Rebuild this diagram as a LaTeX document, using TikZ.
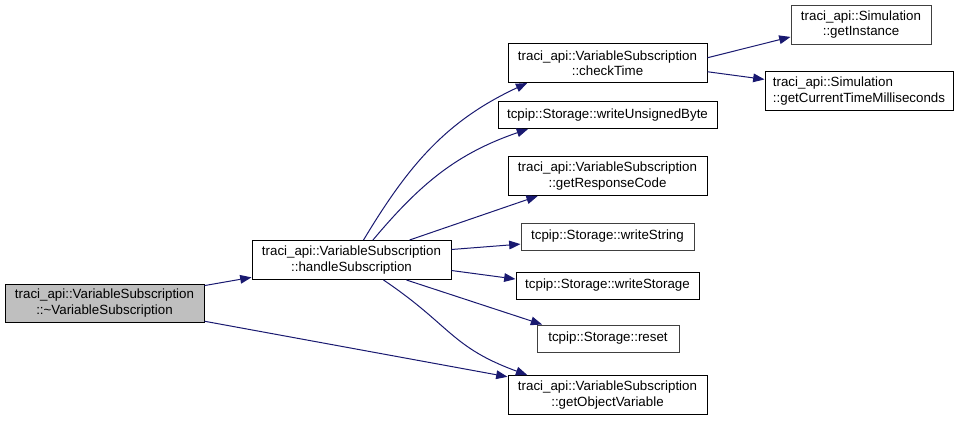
\documentclass[tikz,border=0pt]{standalone}
\usepackage{fontspec}
\setmainfont{Liberation Sans}
\usepackage{tikz,xcolor}
\usetikzlibrary{arrows.meta}
\definecolor{edgeblue}{HTML}{191970}
\definecolor{undocgray}{HTML}{404040}
\definecolor{selgray}{HTML}{BFBFBF}
\tikzset{
  fn/.style={draw=black, fill=white, line width=0.75pt, inner sep=0pt, align=center,
    font=\fontsize{10}{11.5}\selectfont, minimum height=29.25pt},
  fnone/.style={fn, minimum height=20.25pt},
  undoc/.style={draw=undocgray},
  call/.style={draw=edgeblue, line width=0.75pt, -{Triangle[length=8.5pt,width=6.5pt]}},
}

\begin{document}
\begin{tikzpicture}[x=0.75pt,y=-0.75pt]
\useasboundingbox (0,0) rectangle (961,421);
% the function itself
\node[fn, fill=selgray, minimum width=149.25pt, minimum height=28.5pt] (dtor) at (104.5,303)
  {traci\_api::VariableSubscription\\::\textasciitilde VariableSubscription};
\node[fn, minimum width=149.25pt] (handle) at (351.5,260)
  {traci\_api::VariableSubscription\\::handleSubscription};
% callees of handleSubscription
\node[fn, minimum width=149.25pt] (check) at (607.5,63)
  {traci\_api::VariableSubscription\\::checkTime};
\node[fnone, minimum width=164.25pt] (wubyte) at (607.5,115) {tcpip::Storage::writeUnsignedByte};
\node[fn, minimum width=149.25pt] (respcode) at (607.5,176)
  {traci\_api::VariableSubscription\\::getResponseCode};
\node[fnone, undoc, minimum width=129.75pt] (wstring) at (607.5,236.5) {tcpip::Storage::writeString};
\node[fnone, minimum width=137.25pt] (wstorage) at (607.5,285.5) {tcpip::Storage::writeStorage};
\node[fnone, undoc, minimum width=106.5pt] (reset) at (608,338.5) {tcpip::Storage::reset};
\node[fn, minimum width=149.25pt] (objvar) at (607.5,395)
  {traci\_api::VariableSubscription\\::getObjectVariable};
% callees of checkTime
\node[fn, undoc, minimum width=105pt] (instance) at (861,24.5)
  {traci\_api::Simulation\\::getInstance};
\node[fn, align=left, minimum width=141pt] (curtime) at (859,91)
  {traci\_api::Simulation\\::getCurrentTimeMilliseconds};

% calls
\draw[call] (dtor) -- (handle);
\draw[call] (dtor) -- (objvar);
\draw[call] (handle.59) to[out=59, in=205] (check.194);
\draw[call] (handle.43) to[out=50, in=199] (wubyte.190);
\draw[call] (handle.19) -- (respcode.196);
\draw[call] (handle.6) -- (wstring.185);
\draw[call] (handle.-6) -- (wstorage.176);
\draw[call] (handle.-20) -- (reset.168);
\draw[call] (handle.-32) to[out=-34, in=160, looseness=1.2] (objvar.166);
\draw[call] (check.3) -- (instance.190);
\draw[call] (check.-5) -- (curtime.173);
\end{tikzpicture}
\end{document}
